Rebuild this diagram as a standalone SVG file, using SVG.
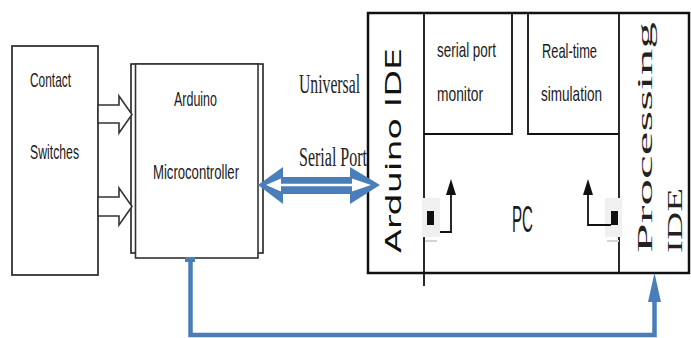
<svg xmlns="http://www.w3.org/2000/svg" width="691" height="338" viewBox="0 0 691 338">
<style>
.box{fill:#fff;stroke:#333;stroke-width:1.8}
.ln{fill:none;stroke:#111;stroke-width:1.8}
.sans{font-family:"Liberation Sans","Open Sans",sans-serif;fill:#1a1a1a;font-size:21px}
.serif{font-family:"Liberation Serif","DejaVu Serif",serif;fill:#222}
.dv{font-family:"DejaVu Sans",sans-serif;fill:#111}
.blue{fill:#4a7ebb}
.hollow{fill:#fff;stroke:#333;stroke-width:1.6;stroke-linejoin:miter}
</style>
<rect width="691" height="338" fill="#fff"/>

<g id="contact-switches">
<rect class="box" x="12" y="46" width="86" height="229"/>
<text class="sans" x="30" y="87" textLength="41" lengthAdjust="spacingAndGlyphs">Contact</text>
<text class="sans" x="30" y="159" textLength="49" lengthAdjust="spacingAndGlyphs">Switches</text>
</g>

<g id="arduino">
<rect x="131" y="64" width="132" height="189" fill="#fff" stroke="#222" stroke-width="1.6"/>
<rect x="135.5" y="64" width="122.5" height="194" fill="#fff" stroke="#333" stroke-width="1.6"/>
<text class="sans" x="174" y="106" textLength="43" lengthAdjust="spacingAndGlyphs">Arduino</text>
<text class="sans" x="153" y="179" textLength="86" lengthAdjust="spacingAndGlyphs">Microcontroller</text>
</g>

<g id="pc">
<rect x="368" y="13" width="321" height="260" fill="#fff" stroke="#111" stroke-width="2.5"/>
<line class="ln" x1="424" y1="13" x2="424" y2="286"/>
<line class="ln" x1="619" y1="13" x2="619" y2="273"/>
<text class="sans" x="512" y="232" style="font-size:37px" textLength="21" lengthAdjust="spacingAndGlyphs">PC</text>
<g id="pc-left-icon">
<rect x="422" y="198" width="18" height="39" fill="#f0f0f0"/>
<rect x="427" y="211" width="7" height="14" fill="#111"/>
<rect x="425" y="240" width="12" height="2" fill="#d4d4d4"/>
<polyline class="ln" points="440,232 451,232 451,193"/>
<polygon points="451,179 446,195 456,195" fill="#111"/>
</g>
<g id="pc-right-icon">
<rect x="605" y="198" width="17" height="39" fill="#f0f0f0"/>
<rect x="611" y="211" width="7" height="14" fill="#111"/>
<rect x="607" y="240" width="12" height="2" fill="#d4d4d4"/>
<polyline class="ln" points="611,225 588,225 588,193"/>
<polygon points="588,179 583,195 593,195" fill="#111"/>
</g>
</g>

<g id="arduino-ide">
<text class="dv" transform="translate(401,253) rotate(-90)" font-size="22" textLength="205" lengthAdjust="spacingAndGlyphs">Arduino IDE</text>
</g>

<g id="serial-port-monitor">
<polyline class="ln" points="424,134 512,134 512,13"/>
<text class="sans" x="437" y="57" textLength="59" lengthAdjust="spacingAndGlyphs">serial port</text>
<text class="sans" x="437" y="101" textLength="46" lengthAdjust="spacingAndGlyphs">monitor</text>
</g>

<g id="real-time-simulation">
<polyline class="ln" points="619,134 528,134 528,13"/>
<text class="sans" x="542" y="58" textLength="55" lengthAdjust="spacingAndGlyphs">Real-time</text>
<text class="sans" x="541" y="101" textLength="61" lengthAdjust="spacingAndGlyphs">simulation</text>
</g>

<g id="processing-ide">
<text class="serif" transform="translate(652,253) rotate(-90)" font-size="22" textLength="231" lengthAdjust="spacingAndGlyphs">Processing</text>
<text class="serif" transform="translate(682,253) rotate(-90)" font-size="22" textLength="65" lengthAdjust="spacingAndGlyphs">IDE</text>
</g>

<g id="usart-label">
<text class="serif" x="299" y="93" font-size="27" textLength="61" lengthAdjust="spacingAndGlyphs">Universal</text>
<text class="serif" x="299" y="166" font-size="27" textLength="68" lengthAdjust="spacingAndGlyphs">Serial Port</text>
</g>

<g id="connectors">
<polygon class="hollow" points="98,105 119,105 119,96 132,114.5 119,133 119,123 98,123"/>
<polygon class="hollow" points="98,197 119,197 119,188 132,206.5 119,225 119,216 98,216"/>
<polygon class="blue" points="258,185 283,167 283,177 350,177 350,167 380,185 350,204 350,194 283,194 283,204"/>
<polygon fill="#fff" points="266,185 281,178.5 281,183.8 352,183.8 352,178.5 371,185 352,191.5 352,186.2 281,186.2 281,191.5"/>
<rect class="blue" x="185" y="257" width="10" height="5"/>
<polyline points="190.5,259 190.5,335 654.5,335 654.5,298" fill="none" stroke="#4a7ebb" stroke-width="4.5"/>
<polygon class="blue" points="654.5,273 648,302 661,302"/>
</g>
</svg>
